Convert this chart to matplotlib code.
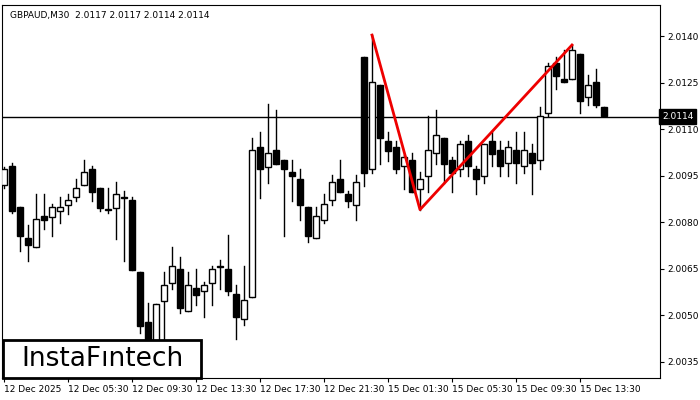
import matplotlib.pyplot as plt
import matplotlib.patches as patches

# GBPAUD M30 candles
opens = [2.00919, 2.00981, 2.00848, 2.00748, 2.00719, 2.00819, 2.00816, 2.00835, 2.00855, 2.00881,
         2.00919, 2.00971, 2.00910, 2.00842, 2.00845, 2.00881, 2.00871, 2.00639, 2.00477, 2.00387,
         2.00545, 2.00603, 2.00648, 2.00513, 2.00587, 2.00577, 2.00603, 2.00658, 2.00648, 2.00568,
         2.00487, 2.00558, 2.01042, 2.00977, 2.01032, 2.01000, 2.00961, 2.00939, 2.00848, 2.00748,
         2.00806, 2.00871, 2.00939, 2.00890, 2.00855, 2.01332, 2.00971, 2.01242, 2.01061, 2.01042,
         2.00981, 2.01000, 2.00906, 2.00948, 2.01023, 2.01071, 2.01000, 2.00971, 2.01061, 2.00971,
         2.00948, 2.01061, 2.01032, 2.00990, 2.01032, 2.00981, 2.01023, 2.01000, 2.01152, 2.01313,
         2.01261, 2.01261, 2.01342, 2.01203, 2.01252, 2.01171]
highs = [2.00977, 2.00990, 2.00848, 2.00790, 2.00890, 2.00890, 2.00858, 2.00881, 2.00890, 2.00939,
         2.01000, 2.00981, 2.00910, 2.00910, 2.00929, 2.00900, 2.00881, 2.00639, 2.00539, 2.00535,
         2.00639, 2.00719, 2.00687, 2.00639, 2.00648, 2.00606, 2.00658, 2.00677, 2.00758, 2.00597,
         2.00658, 2.01071, 2.01090, 2.01181, 2.01161, 2.01000, 2.01000, 2.00971, 2.00848, 2.00848,
         2.00890, 2.00952, 2.01000, 2.00900, 2.00952, 2.01332, 2.01403, 2.01242, 2.01090, 2.01061,
         2.01016, 2.01023, 2.00961, 2.01142, 2.01161, 2.01071, 2.01010, 2.01061, 2.01081, 2.00981,
         2.01052, 2.01090, 2.01061, 2.01061, 2.01090, 2.01090, 2.01052, 2.01171, 2.01313, 2.01332,
         2.01355, 2.01371, 2.01342, 2.01274, 2.01294, 2.01171]
lows = [2.00910, 2.00829, 2.00706, 2.00674, 2.00719, 2.00777, 2.00755, 2.00797, 2.00826, 2.00868,
        2.00919, 2.00868, 2.00835, 2.00829, 2.00745, 2.00674, 2.00645, 2.00442, 2.00339, 2.00355,
        2.00403, 2.00584, 2.00506, 2.00513, 2.00532, 2.00494, 2.00532, 2.00584, 2.00564, 2.00423,
        2.00468, 2.00558, 2.00877, 2.00926, 2.00987, 2.00755, 2.00868, 2.00806, 2.00735, 2.00748,
        2.00797, 2.00855, 2.00897, 2.00848, 2.00806, 2.00916, 2.00958, 2.00987, 2.00997, 2.00958,
        2.00906, 2.00897, 2.00839, 2.00897, 2.00987, 2.00926, 2.00897, 2.00948, 2.00948, 2.00890,
        2.00926, 2.00981, 2.00948, 2.00948, 2.00926, 2.00958, 2.00890, 2.00971, 2.01142, 2.01229,
        2.01252, 2.01261, 2.01152, 2.01177, 2.01171, 2.01142]
closes = [2.00971, 2.00835, 2.00755, 2.00726, 2.00810, 2.00806, 2.00848, 2.00848, 2.00871, 2.00910,
          2.00961, 2.00897, 2.00845, 2.00839, 2.00890, 2.00879, 2.00645, 2.00465, 2.00371, 2.00535,
          2.00597, 2.00658, 2.00523, 2.00597, 2.00564, 2.00597, 2.00648, 2.00656, 2.00577, 2.00494,
          2.00548, 2.01032, 2.00971, 2.01023, 2.00987, 2.00971, 2.00948, 2.00855, 2.00755, 2.00819,
          2.00858, 2.00929, 2.00897, 2.00868, 2.00929, 2.00958, 2.01252, 2.01071, 2.01029, 2.00971,
          2.01010, 2.00897, 2.00939, 2.01032, 2.01081, 2.00987, 2.00958, 2.01052, 2.00981, 2.00939,
          2.01052, 2.01019, 2.00981, 2.01042, 2.00990, 2.01032, 2.00990, 2.01142, 2.01303, 2.01271,
          2.01252, 2.01355, 2.01190, 2.01242, 2.01177, 2.01142]

current_price = 2.0114
pattern_idx = [46, 52, 71]
pattern_price = [2.01403, 2.00840, 2.01371]

xtick_pos = [0, 8, 16, 24, 32, 40, 48, 56, 64, 72]
xtick_labels = ['12 Dec 2025', '12 Dec 05:30', '12 Dec 09:30', '12 Dec 13:30', '12 Dec 17:30',
                '12 Dec 21:30', '15 Dec 01:30', '15 Dec 05:30', '15 Dec 09:30', '15 Dec 13:30']
ytick_vals = [2.0035, 2.0050, 2.0065, 2.0080, 2.0095, 2.0110, 2.0125, 2.0140]

fig = plt.figure(figsize=(7, 4), dpi=100)
ax = fig.add_axes([2 / 700, 22 / 400, 658 / 700, 373 / 400])

for i in range(len(opens)):
    o, h, l, c = opens[i], highs[i], lows[i], closes[i]
    ax.plot([i, i], [l, h], color='black', lw=1, zorder=2)
    bottom = min(o, c)
    height = max(abs(c - o), 0.000012)
    face = 'white' if c >= o else 'black'
    ax.add_patch(patches.Rectangle((i - 0.35, bottom), 0.7, height, facecolor=face,
                                   edgecolor='black', lw=1, zorder=3))

ax.axhline(current_price, color='black', lw=1, zorder=1)
ax.plot(pattern_idx, pattern_price, color='#ee0000', lw=2, zorder=4)

ax.set_xlim(-0.25, 82)
ax.set_ylim(2.00297, 2.01500)

ax.yaxis.tick_right()
ax.set_yticks(ytick_vals)
ax.set_yticklabels([f'{v:.4f}' for v in ytick_vals], fontsize=6.5)
ax.set_xticks(xtick_pos)
ax.set_xticklabels(xtick_labels, fontsize=6.5, ha='left')
ax.tick_params(length=3, width=0.8, pad=2)
for s in ax.spines.values():
    s.set_linewidth(0.8)

ax.text(1.003, current_price, f'{current_price:.4f}', transform=ax.get_yaxis_transform(),
        fontsize=6.5, color='white', va='center', ha='left',
        bbox=dict(boxstyle='square,pad=0.3', facecolor='black', edgecolor='black'))

ax.text(0.012, 0.985, 'GBPAUD,M30  2.0117 2.0117 2.0114 2.0114', transform=ax.transAxes,
        fontsize=6.5, va='top', ha='left')

# logo box
fig.patches.append(patches.Rectangle((3 / 700, 22 / 400), 198 / 700, 38 / 400,
                                     transform=fig.transFigure, facecolor='white',
                                     edgecolor='black', lw=2, zorder=10))
fig.text(102 / 700, 41 / 400, 'InstaFıntech', fontsize=19, ha='center', va='center',
         family='DejaVu Sans', zorder=11)

fig.savefig('out.png', dpi=100)
